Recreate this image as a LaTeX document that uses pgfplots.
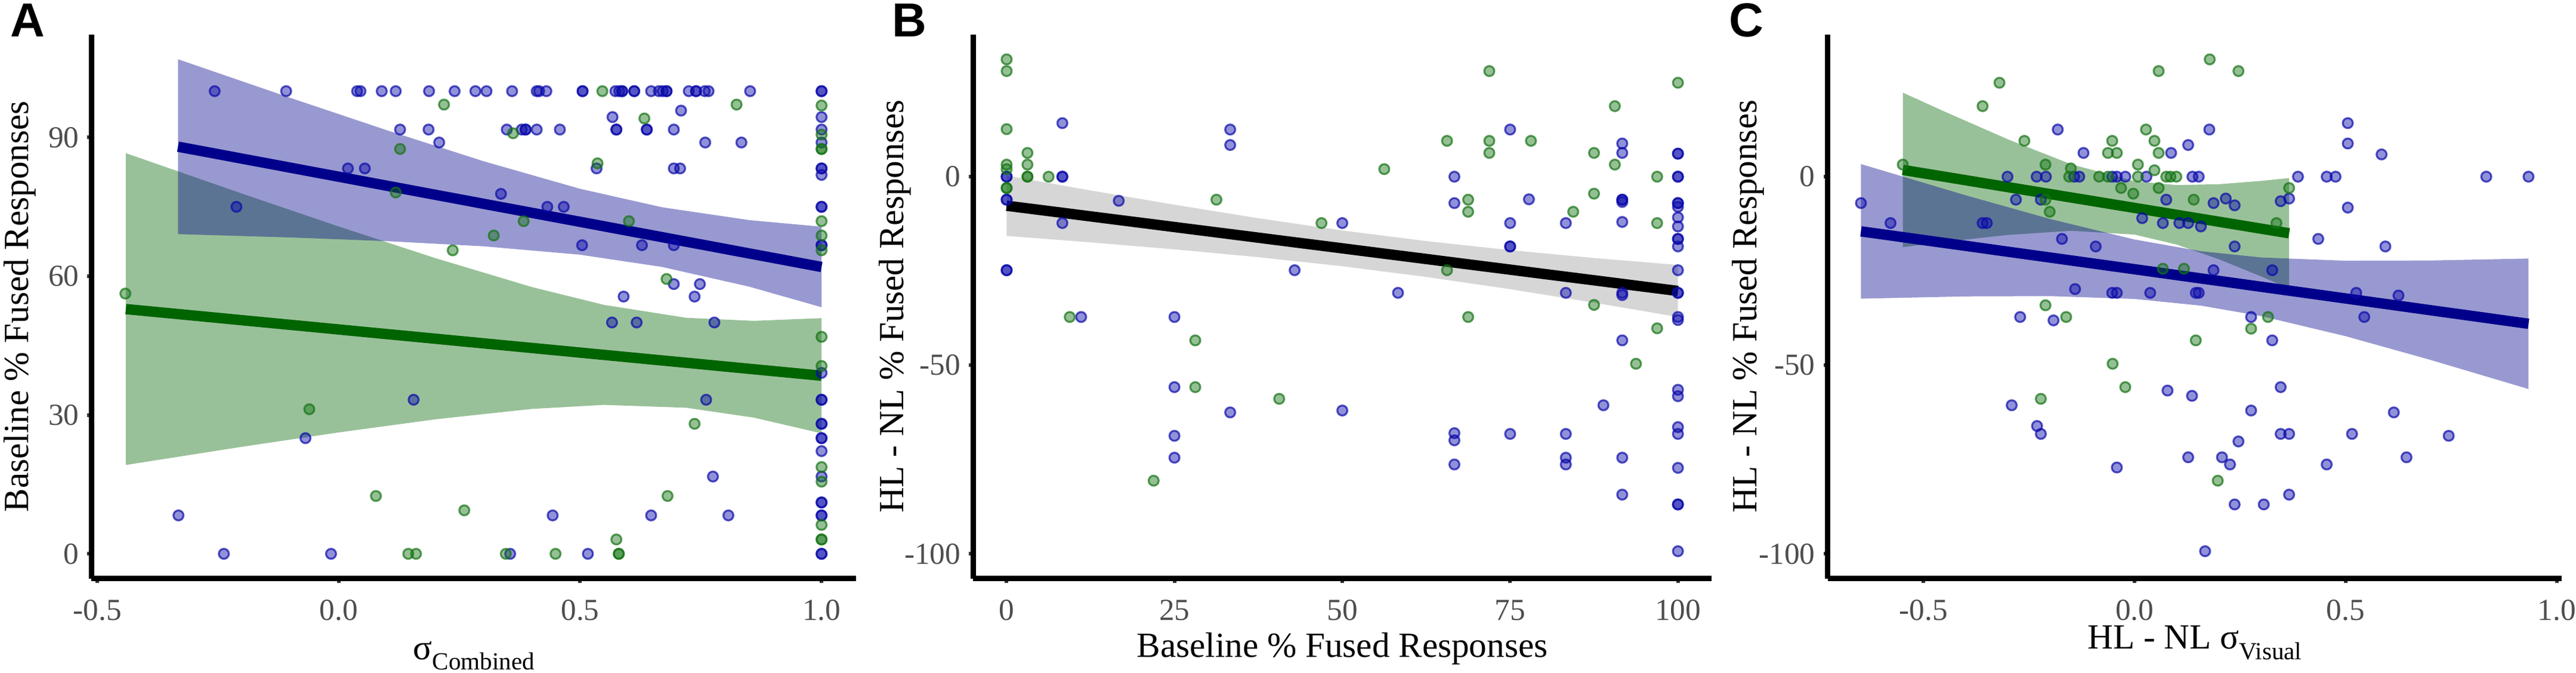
\documentclass[border=0pt]{standalone}
\usepackage{pgfplots}
\pgfplotsset{compat=1.18}
\usepackage{fontspec}
\setmainfont{Liberation Serif}
\newfontfamily\lettfont{Liberation Sans}
\definecolor{bandblue}{RGB}{0,0,139}
\definecolor{bandgreen}{RGB}{0,100,0}
\definecolor{bandgrey}{RGB}{153,153,153}
\definecolor{ptblue}{RGB}{10,10,170}
\definecolor{ptgreen}{RGB}{20,115,20}
\definecolor{ticklab}{RGB}{77,77,77}
\pgfplotsset{
  panel/.style={
    scale only axis, height=227.975pt,
    axis x line*=bottom, axis y line*=left,
    axis line style={line width=2.25pt,-},
    tick align=outside, major tick length=1.75pt,
    tick style={line width=1.5pt, color=black!80},
    ticklabel style={font=\fontsize{12.8pt}{14pt}\selectfont, text=ticklab},
    xticklabel style={anchor=base, yshift=-15.8pt},
    label style={font=\fontsize{14.8pt}{17pt}\selectfont},
    /pgf/number format/assume math mode=true,
    clip=true,
  },
  bpt/.style={only marks, mark=*, mark size=2.1pt,
    mark options={draw=ptblue, fill=ptblue, draw opacity=0.7, fill opacity=0.45, line width=0.8pt}},
  gpt/.style={only marks, mark=*, mark size=2.1pt,
    mark options={draw=ptgreen, fill=ptgreen, draw opacity=0.7, fill opacity=0.45, line width=0.8pt}},
}
\begin{document}
\begin{tikzpicture}
\useasboundingbox (0,0) rectangle (1079.5pt,281.75pt);
% ---------------- Panel A ----------------
\begin{axis}[panel, at={(38.375pt,39.325pt)}, anchor=south west, width=320.475pt,
  xmin=-0.512, xmax=1.072, ymin=-5.35, ymax=112.25,
  xtick={-0.5,0,0.5,1}, xticklabels={-0.5,0.0,0.5,1.0},
  ytick={0,30,60,90}, yticklabels={0,30,60,90},
  xlabel={σ\raisebox{-0.3em}{\fontsize{10.3pt}{11pt}\selectfont Combined}},
  ylabel={Baseline \% Fused Responses},
  xlabel style={at={(axis description cs:0.5,-0.1484)}, anchor=base},
  ylabel style={at={(axis description cs:-0.0823,0.5)}, anchor=base, rotate=0},
]
\addplot[bpt] coordinates {
(-0.257,100) (-0.109,100) (0.038,100) (0.045,100) (0.089,100) (0.118,100) (0.187,100) (0.240,100)
(0.283,100) (0.306,100) (0.359,100) (0.410,100) (0.415,100) (0.430,100) (0.505,100) (0.505,100)
(0.573,100) (0.581,100) (0.587,100) (0.587,100) (0.612,100) (0.612,100) (0.647,100) (0.663,100)
(0.671,100) (0.679,100) (0.679,100) (0.725,100) (0.740,100) (0.740,100) (0.758,100) (0.766,100)
(0.852,100) (1,100) (1,100)
(0.709,95.8) (0.567,94.4) (0.127,91.7) (0.186,91.7) (0.348,91.7) (0.379,91.7) (0.387,91.7) (0.387,91.7)
(0.410,91.7) (0.458,91.7) (0.575,91.7) (0.575,91.7) (0.638,91.7) (0.638,91.7) (0.694,91.7)
(0.208,88.9) (0.759,88.9) (0.834,88.9) (0.019,83.3) (0.054,83.3) (0.534,83.3) (0.694,83.3) (0.707,83.3)
(0.336,77.8) (-0.212,75) (0.432,75) (0.466,75) (0.504,66.7) (0.628,66.7) (0.694,66.7)
(0.694,58.3) (0.748,58.3) (0.590,55.6) (0.737,55.6) (0.566,50) (0.617,50) (0.778,50)
(0.155,33.3) (0.761,33.3) (-0.069,25) (0.775,16.7) (-0.332,8.3) (0.443,8.3) (0.647,8.3) (0.807,8.3)
(-0.238,0) (-0.016,0) (0.355,0) (0.516,0)
(1,94.4) (1,91.7) (1,88.9) (1,83.3) (1,83.3) (1,81.9) (1,75) (1,75) (1,66.7) (1,66.7) (1,39.1)
(1,33.3) (1,33.3) (1,28.1) (1,28.1) (1,25) (1,25) (1,22.2) (1,16.7) (1,11.1) (1,11.1) (1,8.3) (1,8.3)
(1,0) (1,0)
};
\addplot[gpt] coordinates {
(0.546,100) (0.218,97.1) (0.824,97.1) (0.633,94.1) (0.361,90.9) (0.127,87.5) (0.536,84.4) (0.118,78.1)
(0.383,71.9) (0.601,71.9) (0.321,68.8) (0.236,65.6) (0.679,59.4) (-0.442,56.25) (-0.061,31.25)
(0.737,28.1) (0.077,12.5) (0.681,12.5) (0.260,9.4) (0.575,3.1) (0.144,0) (0.160,0) (0.346,0)
(0.449,0) (0.580,0) (0.580,0)
(1,96.9) (1,90.6) (1,87.5) (1,87.5) (1,71.9) (1,68.8) (1,65.6) (1,46.9) (1,40.6) (1,18.75) (1,15.6)
(1,6.25) (1,3.1) (1,3.1)
};
\addplot[draw=none, fill=bandgreen, fill opacity=0.4] coordinates {
(-0.441,86.6) (-0.2,77.84) (0,70.74) (0.2,63.91) (0.4,57.66) (0.55,53.79) (0.72,51.01) (0.86,50.35) (1,50.94)
(1,26.04) (0.86,29.43) (0.72,31.57) (0.55,32.19) (0.4,31.32) (0.2,29.07) (0,26.24) (-0.2,23.14) (-0.441,19.2)
} -- cycle;
\addplot[bandgreen, line width=4.35pt] coordinates {(-0.441,52.9) (1,38.49)};
\addplot[draw=none, fill=bandblue, fill opacity=0.4] coordinates {
(-0.333,106.9) (-0.1,98.54) (0.1,91.54) (0.3,84.85) (0.5,78.89) (0.67,74.9) (0.85,72.13) (1,70.7)
(1,53.3) (0.85,57.75) (0.67,62.0) (0.5,64.65) (0.3,66.47) (0.1,67.58) (-0.1,68.38) (-0.333,69.1)
} -- cycle;
\addplot[bandblue, line width=4.35pt] coordinates {(-0.333,88.0) (1,62.0)};
\end{axis}
% ---------------- Panel B ----------------
\begin{axis}[panel, at={(407.775pt,39.325pt)}, anchor=south west, width=309.45pt,
  xmin=-5, xmax=105, ymin=-106.55, ymax=37.7,
  xtick={0,25,50,75,100}, xticklabels={0,25,50,75,100},
  ytick={-100,-50,0}, yticklabels={-100,-50,0},
  xlabel={Baseline \% Fused Responses},
  ylabel={HL - NL \% Fused Responses},
  xlabel style={at={(axis description cs:0.5,-0.144)}, anchor=base},
  ylabel style={at={(axis description cs:-0.0945,0.5)}, anchor=base, rotate=0},
]
\addplot[bpt] coordinates {
(0,0) (0,0) (0,-6.1) (0,-6.1) (0,-24.8) (0,-24.8) (8.3,14.2) (8.3,0) (8.3,0) (8.3,-12.3) (16.7,-6.4)
(11.1,-37.2) (25,-37.2) (25,-55.8) (33.3,-62.5) (25,-68.7) (25,-74.5) (33.3,12.5) (33.3,8.4) (50,-12.3)
(42.9,-24.8) (50,-62.0) (75,12.5) (91.7,8.8) (91.7,6.3) (100,6.1) (100,6.1) (66.7,0) (100,0) (100,0)
(66.7,-7.0) (77.8,-6.0) (91.7,-6.1) (91.7,-6.1) (91.7,-6.7) (100,-7) (100,-7) (100,-8) (75,-12.3)
(83.3,-12.3) (91.7,-12.0) (100,-10.8) (100,-13.2) (100,-16.5) (100,-16.5) (100,-18.5) (75,-18.5)
(75,-18.5) (100,-24.8) (58.3,-30.8) (83.3,-30.8) (91.7,-30.8) (91.7,-31.4) (100,-30.8) (100,-30.8)
(100,-37.2) (100,-38.0) (91.7,-43.4) (100,-56.5) (100,-58.2) (88.9,-60.6) (66.7,-68.0) (66.7,-69.9)
(75,-68.2) (83.3,-68.2) (100,-66.4) (100,-68.2) (66.7,-76.3) (83.3,-74.5) (83.3,-76.3) (91.7,-74.5)
(100,-77.2) (91.7,-84.3) (100,-86.9) (100,-86.9) (100,-99.3)
};
\addplot[gpt] coordinates {
(0,31.1) (0,28.0) (0,12.6) (0,3.2) (0,2.0) (0,-3.0) (0,-3.0) (3.1,6.3) (3.1,3.2) (3.1,0) (3.1,0)
(6.25,0) (9.4,-37.2) (28.1,-43.4) (28.1,-55.8) (40.6,-58.9) (21.9,-80.6) (31.25,-6.1) (46.9,-12.3)
(71.9,28.0) (100,24.9) (90.6,18.7) (65.6,9.5) (71.9,9.5) (78.1,9.5) (71.9,6.3) (87.5,6.3) (56.25,2.0)
(90.6,3.2) (96.9,0) (68.75,-6.1) (68.75,-9.3) (87.5,-4.5) (84.4,-9.3) (96.9,-12.3) (65.6,-24.8)
(87.5,-34.0) (68.75,-37.2) (96.9,-40.2) (93.75,-49.6)
};
\addplot[draw=none, fill=bandgrey, fill opacity=0.4] coordinates {
(0,0.3) (12.5,-3.65) (25,-7.44) (37.5,-11.02) (50,-14.26) (62.5,-17.08) (75,-19.48) (87.5,-21.56) (100,-23.41)
(100,-37.19) (87.5,-33.4) (75,-29.82) (62.5,-26.58) (50,-23.74) (37.5,-21.34) (25,-19.26) (12.5,-17.41) (0,-15.7)
} -- cycle;
\addplot[black, line width=4.35pt] coordinates {(0,-7.7) (100,-30.3)};
\end{axis}
% ---------------- Panel C ----------------
\begin{axis}[panel, at={(765.875pt,39.325pt)}, anchor=south west, width=307.7pt,
  xmin=-0.727, xmax=1.012, ymin=-106.55, ymax=37.7,
  xtick={-0.5,0,0.5,1}, xticklabels={-0.5,0.0,0.5,1.0},
  ytick={-100,-50,0}, yticklabels={-100,-50,0},
  xlabel={HL - NL σ\raisebox{-0.3em}{\fontsize{10.3pt}{11pt}\selectfont Visual}},
  ylabel={HL - NL \% Fused Responses},
  xlabel style={at={(axis description cs:0.5,-0.129)}, anchor=base},
  ylabel style={at={(axis description cs:-0.0965,0.5)}, anchor=base, rotate=0},
]
\addplot[bpt] coordinates {
(-0.648,-7.0) (-0.578,-12.3) (-0.182,12.5) (-0.121,6.3) (0.0865,6.3) (0.127,8.4) (-0.301,0) (-0.232,0)
(-0.210,0) (-0.143,0) (-0.131,0) (-0.053,0) (-0.042,0) (-0.022,0) (0.028,0) (0.137,0) (0.152,0)
(-0.281,-6.1) (-0.222,-6.1) (-0.360,-12.3) (-0.350,-12.3) (0.075,-6.1) (0.018,-11.0) (0.067,-12.3)
(0.106,-12.3) (0.127,-12.3) (-0.172,-16.5) (-0.092,-18.5) (-0.141,-29.8) (-0.053,-30.8) (-0.042,-30.8)
(0.037,-30.8) (0.145,-30.8) (0.152,-30.8) (-0.271,-37.2) (-0.192,-38.1) (-0.291,-60.6) (-0.231,-66.1)
(-0.222,-68.2) (0.127,-74.4) (-0.042,-77.1) (0.078,-56.7) (0.136,-58.1)
(0.177,12.5) (0.505,14.2) (0.505,8.8) (0.585,5.9) (0.387,0) (0.455,0) (0.476,0) (0.833,0) (0.933,0)
(0.505,-8.2) (0.187,-7.0) (0.216,-5.8) (0.237,-7.6) (0.346,-6.5) (0.366,-5.8) (0.157,-13.2)
(0.435,-16.5) (0.594,-18.5) (0.237,-18.5) (0.187,-24.8) (0.326,-24.8) (0.525,-30.8) (0.625,-31.5)
(0.544,-37.2) (0.276,-37.2) (0.326,-43.4) (0.346,-55.8) (0.276,-62.0) (0.614,-62.5) (0.346,-68.2)
(0.366,-68.2) (0.515,-68.2) (0.744,-68.7) (0.246,-70.2) (0.207,-74.4) (0.226,-76.3) (0.455,-76.3)
(0.644,-74.4) (0.366,-84.3) (0.237,-86.9) (0.306,-86.9) (0.167,-99.3)
};
\addplot[gpt] coordinates {
(-0.320,24.9) (-0.360,18.7) (-0.261,9.5) (-0.053,9.5) (0.027,12.5) (0.047,9.5) (0.057,28.0) (-0.063,6.3)
(-0.042,6.3) (0.057,6.3) (-0.549,3.2) (-0.211,3.2) (-0.151,2.2) (0.008,3.2) (0.047,1.7) (-0.155,0)
(-0.084,0) (-0.063,0) (0.008,0) (0.075,0) (0.085,0) (0.099,0) (-0.032,-3.0) (-0.003,-4.5) (0.057,-3.0)
(0.140,-6.1) (-0.211,-6.1) (-0.201,-9.3) (-0.211,-34.1) (-0.162,-37.2) (0.145,-43.4) (-0.052,-49.6)
(-0.022,-55.8) (-0.222,-58.9) (0.178,31.1) (0.246,28.0) (0.366,-3.0) (0.336,-12.3) (0.316,-37.2)
(0.276,-40.3) (0.197,-80.6) (0.067,-24.4) (0.117,-24.4)
};
\addplot[draw=none, fill=bandgreen, fill opacity=0.4] coordinates {
(-0.549,22.29) (-0.45,17.26) (-0.3,9.90) (-0.15,3.28) (0,-1.21) (0.1,-2.23) (0.2,-2.00) (0.3,-1.12) (0.366,-0.36)
(0.366,-29.64) (0.3,-26.46) (0.2,-21.90) (0.1,-18.01) (0,-15.35) (-0.15,-14.34) (-0.3,-15.44) (-0.45,-17.30) (-0.549,-18.69)
} -- cycle;
\addplot[bandgreen, line width=4.35pt] coordinates {(-0.549,1.8) (0.366,-15.0)};
\addplot[draw=none, fill=bandblue, fill opacity=0.4] coordinates {
(-0.648,3.34) (-0.4,-4.94) (-0.2,-11.22) (0,-16.66) (0.157,-19.76) (0.3,-21.42) (0.5,-22.29) (0.7,-22.23) (0.933,-21.7)
(0.933,-56.3) (0.7,-48.55) (0.5,-42.29) (0.3,-36.96) (0.157,-34.18) (0,-32.42) (-0.2,-31.66) (-0.4,-31.74) (-0.648,-32.34)
} -- cycle;
\addplot[bandblue, line width=4.35pt] coordinates {(-0.648,-14.5) (0.933,-39.0)};
\end{axis}
% panel letters
\node[anchor=base west, inner sep=0pt, font=\lettfont\bfseries\fontsize{20pt}{20pt}\selectfont] at (4.25pt,266.25pt) {A};
\node[anchor=base west, inner sep=0pt, font=\lettfont\bfseries\fontsize{20pt}{20pt}\selectfont] at (373.6pt,266.25pt) {B};
\node[anchor=base west, inner sep=0pt, font=\lettfont\bfseries\fontsize{20pt}{20pt}\selectfont] at (724.3pt,266.25pt) {C};
\end{tikzpicture}
\end{document}
